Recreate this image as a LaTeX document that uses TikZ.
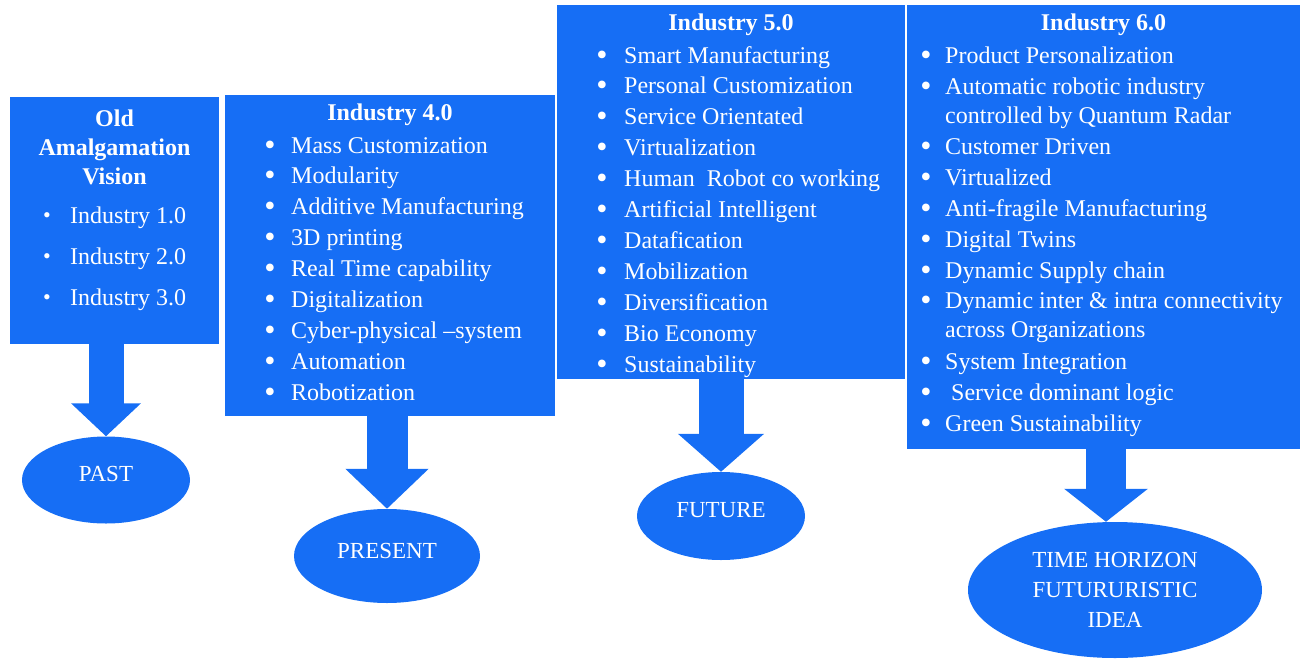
\documentclass[tikz,border=0pt]{standalone}
\usepackage{fontspec}
\setmainfont{Liberation Serif}
\usetikzlibrary{shapes.geometric,arrows.meta}
\definecolor{panelblue}{RGB}{22,110,245}
\tikzset{
  panel/.style={rectangle,fill=panelblue,draw=none,inner sep=0pt,anchor=north west},
  era/.style={ellipse,fill=panelblue,inner sep=0pt,text=white,align=center,font=\fontsize{23}{30}\selectfont},
  head/.style={text=white,inner sep=0pt,align=center,font=\bfseries\fontsize{24}{29}\selectfont},
  item/.style={text=white,inner sep=0pt,anchor=base west,font=\fontsize{24}{31}\selectfont},
  dot/.style={text=white,inner sep=0pt,anchor=base,font=\fontsize{32}{32}\selectfont},
  flow/.style n args={3}{draw=panelblue,line width=#1,-{Triangle[width=#2,length=#3]}}
}
\begin{document}
\begin{tikzpicture}[x=1pt,y=1pt]
\useasboundingbox (0,0) rectangle (1302,-659);

% the four stages
\node[panel,minimum width=209pt,minimum height=247pt] (old) at (10,-97) {};
\node[panel,minimum width=330pt,minimum height=321pt] (i4) at (225,-95) {};
\node[panel,minimum width=348pt,minimum height=374pt] (i5) at (557,-5) {};
\node[panel,minimum width=393pt,minimum height=444pt] (i6) at (907,-5) {};

% time labels
\node[era,minimum width=168pt,minimum height=87pt,text depth=12pt] (past) at (106,-480) {PAST};
\node[era,minimum width=186pt,minimum height=94pt,text depth=10pt] (present) at (387,-556) {PRESENT};
\node[era,minimum width=168pt,minimum height=88pt,text depth=12pt] (future) at (721,-516) {FUTURE};
\node[era,minimum width=294pt,minimum height=136pt] (horizon) at (1115,-590) {TIME HORIZON\\FUTURURISTIC\\IDEA};

% old vision
\node[head] (oldtitle) at (114.5,-147) {Old\\Amalgamation\\Vision};
\foreach \yy/\txt in {216/Industry 1.0,257/Industry 2.0,298/Industry 3.0}{
  \node[dot,font=\fontsize{22}{22}\selectfont] at (47,-\yy-6) {\textbullet};
  \node[item] at (70,-\yy-7) {\txt};
}

% industry 4.0
\node[head] (i4title) at (390,-115) {Industry 4.0};
\foreach \txt [count=\k] in {Mass Customization,Modularity,Additive Manufacturing,3D printing,
  Real Time capability,Digitalization,Cyber-physical --system,Automation,Robotization}{
  \node[dot] at (270,-155-30.9*\k+30.9) {\textbullet};
  \node[item] at (291,-153-30.9*\k+30.9) {\txt};
}

% industry 5.0
\node[head] (i5title) at (731,-25) {Industry 5.0};
\foreach \txt [count=\k] in {Smart Manufacturing,Personal Customization,Service Orientated,Virtualization,
  Human\ \ Robot co working,Artificial Intelligent,Datafication,Mobilization,Diversification,
  Bio Economy,Sustainability}{
  \node[dot] at (602,-65-30.9*\k+30.9) {\textbullet};
  \node[item] at (624,-63-30.9*\k+30.9) {\txt};
}

% industry 6.0
\node[head] (i6title) at (1103.5,-25) {Industry 6.0};
\foreach \yy/\txt in {56/Product Personalization,87/Automatic robotic industry,147/Customer Driven,
  178/Virtualized,209/Anti-fragile Manufacturing,240/Digital Twins,271/Dynamic Supply chain,
  301/Dynamic inter \& intra connectivity,362/System Integration,
  393/\hspace{6pt}Service dominant logic,424/Green Sustainability}{
  \node[dot] at (926,-\yy-9) {\textbullet};
  \node[item] at (945,-\yy-7) {\txt};
}
\node[item] at (945,-123) {controlled by Quantum Radar};
\node[item] at (945,-337) {across Organizations};

% arrows down to the time labels
\draw[flow={35pt}{68pt}{33pt}] (past.north |- old.south) -- (past.north);
\draw[flow={41pt}{81pt}{40pt}] (present.north |- i4.south) -- (present.north);
\draw[flow={45pt}{84pt}{38pt}] (future.north |- i5.south) -- (future.north);
\draw[flow={40pt}{82pt}{33pt}] ([xshift=-9pt]horizon.north |- i6.south) -- ([xshift=-9pt]horizon.north);
\end{tikzpicture}
\end{document}
